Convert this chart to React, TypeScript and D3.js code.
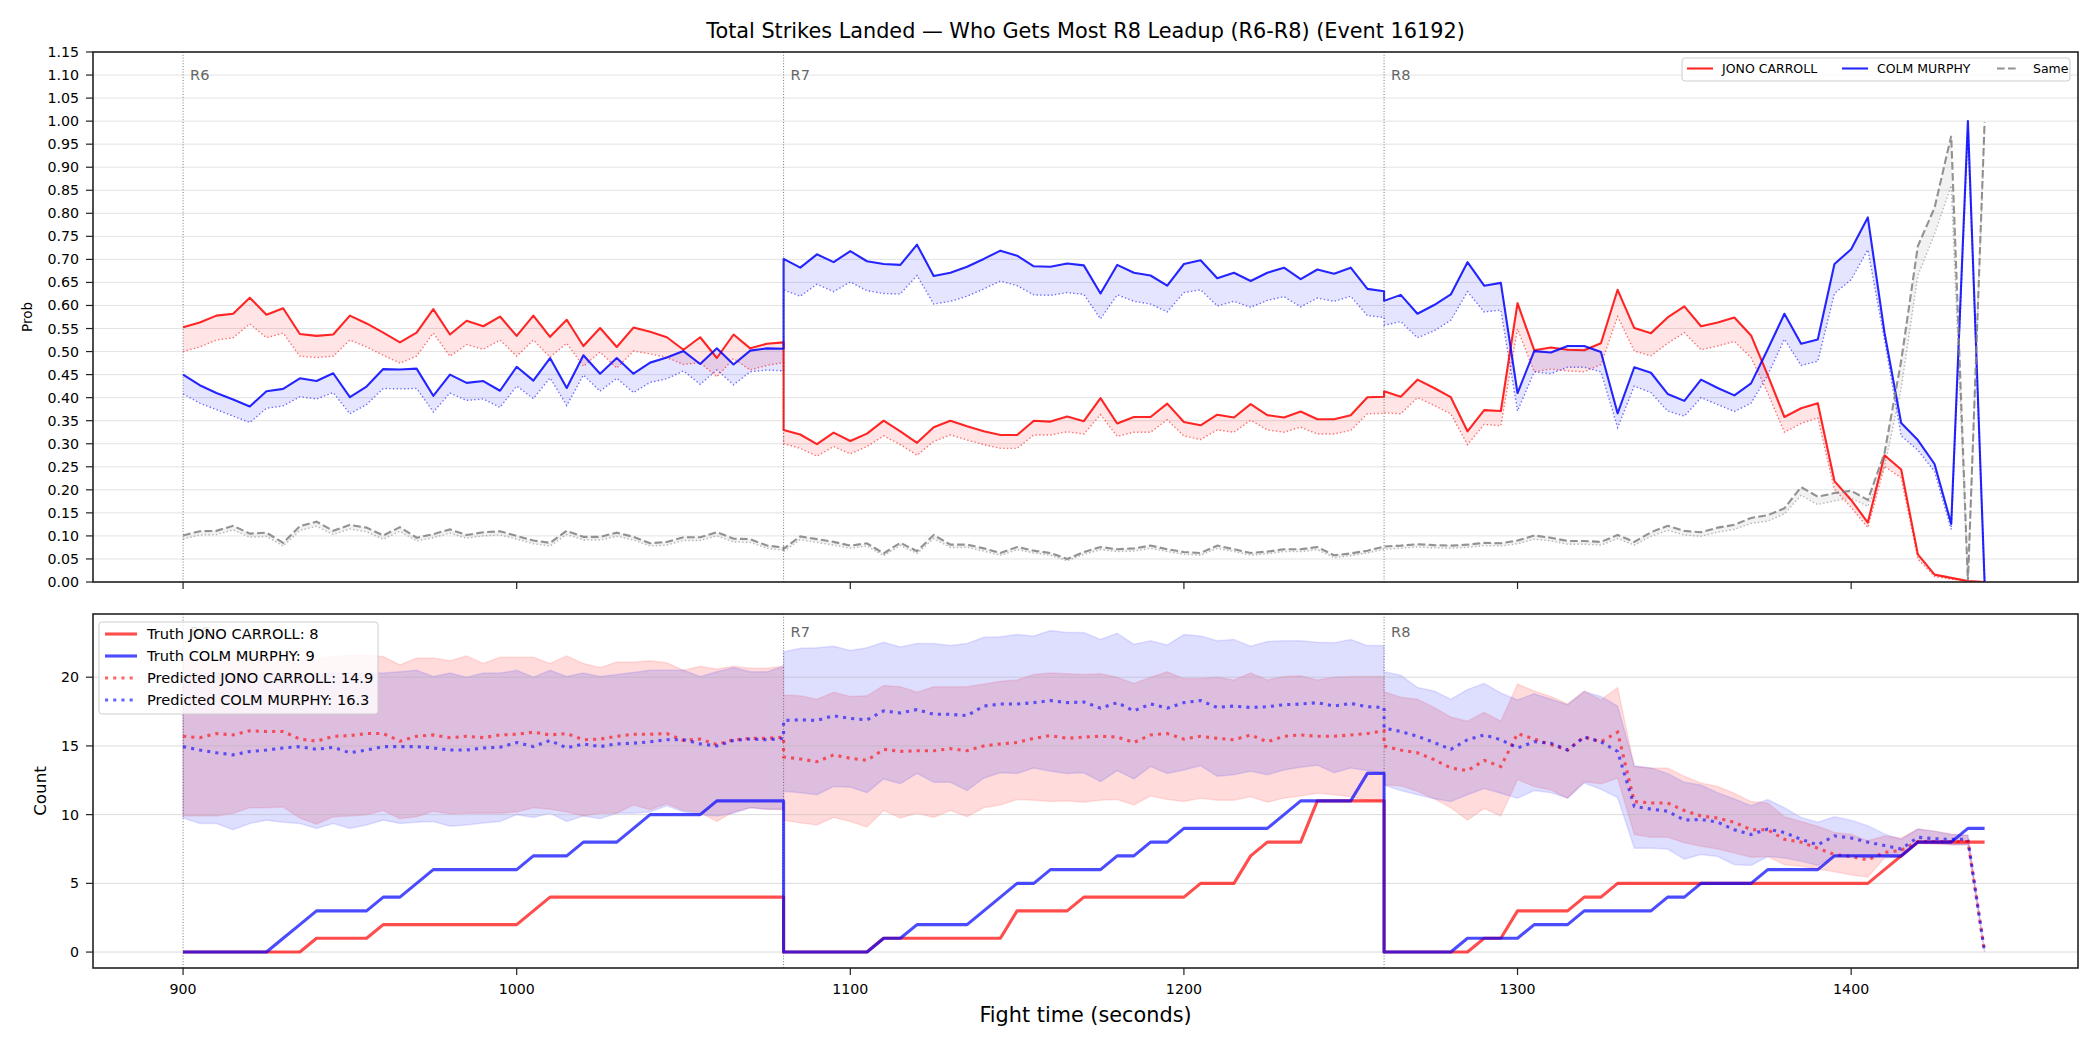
import React from "react";
import * as d3 from "d3";

// ---------------- DATA ----------------
const ROUND_STARTS = [900, 1080, 1260];
const ROUND_LABELS = ["R6", "R7", "R8"];
const SAMPLE_STEP = 5;
const PTS_PER_ROUND = 37;
const TIMES: number[] = ROUND_STARTS.flatMap((s) => d3.range(PTS_PER_ROUND).map((i) => s + i * SAMPLE_STEP));

const FIGHTER_A = "JONO CARROLL";
const FIGHTER_B = "COLM MURPHY";
const TRUTH_A_FINAL = 8;
const TRUTH_B_FINAL = 9;
const PRED_A_FINAL = 14.9;
const PRED_B_FINAL = 16.3;

const PROB_Y_TICKS = d3.range(0, 24).map((i) => i * 0.05);
const COUNT_Y_TICKS = [0, 5, 10, 15, 20];
const X_TICKS = [900, 1000, 1100, 1200, 1300, 1400];

// Top panel: probabilities (solid) and lower (dotted) per fighter
const PROB_A = [
  0.553,0.563,0.578,0.582,0.617,0.580,0.594,0.538,0.534,0.537,0.578,0.561,0.541,0.520,0.541,0.592,0.537,0.567,0.555,0.576,0.534,0.578,0.532,0.569,0.512,0.551,0.510,0.552,0.543,0.531,0.504,0.531,0.486,0.537,0.507,0.517,0.520,
  0.330,0.320,0.299,0.324,0.306,0.322,0.350,0.327,0.302,0.336,0.350,0.338,0.327,0.319,0.319,0.350,0.348,0.359,0.349,0.399,0.344,0.358,0.358,0.387,0.347,0.340,0.363,0.357,0.386,0.362,0.357,0.370,0.353,0.353,0.362,0.401,0.402,
  0.414,0.402,0.439,0.421,0.401,0.327,0.373,0.371,0.605,0.503,0.509,0.504,0.503,0.518,0.634,0.551,0.540,0.574,0.598,0.555,0.563,0.574,0.535,0.449,0.358,0.377,0.388,0.219,0.178,0.129,0.275,0.244,0.060,0.016,0.009,0.002,0.0,
];
const PROB_A_LOW = [
  0.500,0.510,0.525,0.530,0.560,0.530,0.540,0.490,0.487,0.490,0.525,0.510,0.492,0.475,0.490,0.540,0.490,0.515,0.505,0.525,0.490,0.525,0.488,0.518,0.468,0.499,0.464,0.501,0.495,0.487,0.472,0.476,0.445,0.485,0.460,0.470,0.476,
  0.300,0.290,0.273,0.294,0.278,0.294,0.317,0.298,0.275,0.305,0.319,0.308,0.298,0.290,0.290,0.319,0.319,0.326,0.321,0.363,0.316,0.325,0.325,0.352,0.317,0.309,0.330,0.325,0.351,0.330,0.325,0.336,0.321,0.321,0.329,0.365,0.366,
  0.367,0.365,0.400,0.383,0.365,0.298,0.342,0.339,0.549,0.456,0.462,0.458,0.456,0.472,0.576,0.501,0.491,0.518,0.541,0.504,0.512,0.522,0.487,0.410,0.325,0.344,0.356,0.201,0.162,0.118,0.251,0.226,0.050,0.012,0.006,0.002,0.0,
];
const PROB_B = [
  0.450,0.427,0.410,0.396,0.381,0.414,0.419,0.442,0.436,0.453,0.401,0.424,0.462,0.461,0.463,0.404,0.450,0.432,0.436,0.415,0.467,0.437,0.486,0.421,0.492,0.452,0.486,0.452,0.476,0.487,0.501,0.473,0.507,0.472,0.502,0.507,0.506,
  0.701,0.682,0.711,0.694,0.718,0.696,0.690,0.688,0.732,0.664,0.671,0.684,0.701,0.719,0.708,0.685,0.684,0.691,0.687,0.626,0.688,0.671,0.665,0.643,0.690,0.698,0.659,0.671,0.653,0.671,0.682,0.657,0.678,0.669,0.682,0.636,0.631,
  0.610,0.623,0.582,0.601,0.624,0.694,0.643,0.649,0.410,0.501,0.498,0.512,0.512,0.499,0.366,0.466,0.454,0.408,0.393,0.439,0.421,0.405,0.431,0.505,0.582,0.517,0.526,0.690,0.722,0.791,0.541,0.345,0.308,0.256,0.126,1.0,0.0,
];
const PROB_B_LOW = [
  0.408,0.388,0.374,0.360,0.346,0.377,0.382,0.402,0.397,0.411,0.365,0.385,0.420,0.419,0.420,0.369,0.410,0.394,0.397,0.379,0.425,0.398,0.443,0.383,0.449,0.414,0.442,0.411,0.433,0.441,0.458,0.429,0.460,0.428,0.456,0.460,0.458,
  0.634,0.620,0.646,0.630,0.651,0.632,0.626,0.625,0.665,0.603,0.609,0.620,0.636,0.653,0.643,0.623,0.622,0.628,0.624,0.571,0.623,0.609,0.603,0.586,0.628,0.634,0.599,0.609,0.596,0.611,0.619,0.597,0.616,0.609,0.620,0.578,0.574,
  0.557,0.565,0.530,0.545,0.568,0.630,0.586,0.590,0.371,0.456,0.452,0.466,0.466,0.456,0.335,0.425,0.411,0.371,0.360,0.400,0.385,0.370,0.388,0.449,0.527,0.470,0.479,0.626,0.656,0.721,0.526,0.317,0.286,0.240,0.114,0.98,0.0,
];
const PROB_SAME = [
  0.101,0.110,0.111,0.122,0.105,0.107,0.085,0.121,0.131,0.111,0.124,0.118,0.101,0.119,0.096,0.104,0.114,0.102,0.108,0.110,0.100,0.090,0.085,0.111,0.098,0.098,0.107,0.098,0.084,0.087,0.097,0.097,0.108,0.094,0.093,0.079,0.075,
  0.072,0.099,0.093,0.087,0.079,0.084,0.062,0.085,0.067,0.102,0.081,0.081,0.073,0.063,0.076,0.068,0.063,0.050,0.065,0.076,0.071,0.073,0.079,0.071,0.065,0.063,0.079,0.071,0.063,0.066,0.071,0.071,0.076,0.058,0.062,0.068,0.077,
  0.077,0.079,0.082,0.080,0.079,0.081,0.085,0.084,0.090,0.101,0.096,0.089,0.089,0.087,0.102,0.087,0.108,0.122,0.111,0.108,0.118,0.124,0.139,0.145,0.160,0.206,0.185,0.193,0.198,0.178,0.280,0.480,0.729,0.812,0.968,0.0,0.998,
];
const PROB_SAME_LOW = [
  0.093,0.102,0.103,0.113,0.097,0.099,0.078,0.112,0.121,0.103,0.115,0.109,0.093,0.110,0.089,0.096,0.106,0.095,0.100,0.102,0.093,0.083,0.078,0.103,0.091,0.091,0.099,0.091,0.078,0.080,0.090,0.090,0.100,0.087,0.086,0.073,0.069,
  0.066,0.092,0.086,0.080,0.073,0.078,0.057,0.079,0.062,0.094,0.075,0.075,0.067,0.058,0.070,0.063,0.058,0.046,0.060,0.070,0.066,0.067,0.073,0.066,0.060,0.058,0.073,0.066,0.058,0.061,0.066,0.066,0.070,0.053,0.057,0.063,0.071,
  0.071,0.073,0.076,0.074,0.073,0.075,0.079,0.078,0.083,0.093,0.089,0.082,0.082,0.080,0.094,0.080,0.099,0.112,0.102,0.099,0.108,0.114,0.127,0.132,0.148,0.188,0.168,0.176,0.182,0.164,0.250,0.420,0.665,0.755,0.860,0.0,0.990,
];

// Bottom panel: counts
const TRUTH_A = [
  0,0,0,0,0,0,0,0,1,1,1,1,2,2,2,2,2,2,2,2,2,3,4,4,4,4,4,4,4,4,4,4,4,4,4,4,4,
  0,0,0,0,0,0,1,1,1,1,1,1,1,1,3,3,3,3,4,4,4,4,4,4,4,5,5,5,7,8,8,8,11,11,11,11,11,
  0,0,0,0,0,0,1,1,3,3,3,3,4,4,5,5,5,5,5,5,5,5,5,5,5,5,5,5,5,5,6,7,8,8,8,8,8,
];
const TRUTH_B = [
  0,0,0,0,0,0,1,2,3,3,3,3,4,4,5,6,6,6,6,6,6,7,7,7,8,8,8,9,10,10,10,10,11,11,11,11,11,
  0,0,0,0,0,0,1,1,2,2,2,2,3,4,5,5,6,6,6,6,7,7,8,8,9,9,9,9,9,9,10,11,11,11,11,13,13,
  0,0,0,0,0,1,1,1,1,2,2,2,3,3,3,3,3,4,4,5,5,5,5,6,6,6,6,7,7,7,7,7,8,8,8,9,9,
];
const PRED_A = [
  15.7,15.6,15.9,15.8,16.1,16.05,16.05,15.5,15.35,15.7,15.75,15.9,15.9,15.35,15.7,15.8,15.6,15.7,15.6,15.8,15.85,16.0,15.8,15.9,15.45,15.5,15.7,15.85,15.85,15.9,15.4,15.5,15.1,15.45,15.55,15.55,15.65,
  14.2,14.05,13.85,14.35,14.1,13.95,14.75,14.6,14.65,14.65,14.8,14.65,15.0,15.15,15.25,15.55,15.75,15.55,15.65,15.7,15.65,15.25,15.8,15.9,15.5,15.7,15.55,15.45,15.8,15.3,15.7,15.8,15.7,15.7,15.8,15.9,16.1,
  15.0,14.7,14.5,14.0,13.4,13.2,13.95,13.5,15.9,15.5,15.1,14.7,15.65,15.3,16.0,10.95,10.85,10.85,10.3,9.9,9.75,9.45,8.9,8.9,8.2,8.0,7.55,7.1,6.95,6.7,7.25,7.4,8.05,8.05,8.05,8.05,0,
];
const PRED_B = [
  14.95,14.7,14.5,14.35,14.6,14.7,14.85,14.95,14.75,14.9,14.5,14.7,14.95,14.95,14.95,14.85,14.7,14.7,14.85,14.9,15.25,14.95,15.4,14.85,15.15,14.95,15.15,15.2,15.3,15.45,15.45,15.15,15.0,15.4,15.5,15.45,15.55,
  16.85,16.9,16.85,17.2,17.0,16.9,17.55,17.4,17.65,17.3,17.3,17.2,17.9,18.05,18.05,18.15,18.3,18.15,18.2,17.75,18.15,17.55,18.05,17.75,18.15,18.3,17.8,17.9,17.8,17.85,18.0,18.05,18.15,17.9,18.1,17.85,17.8,
  16.3,16.05,15.7,15.25,14.75,15.45,15.8,15.45,14.85,15.3,15.2,14.7,15.65,15.3,14.6,10.6,10.4,10.25,9.6,9.65,9.45,8.9,8.55,8.95,8.7,8.2,7.8,8.45,8.3,8.0,7.75,7.5,8.35,8.25,8.2,8.2,0,
];
const BAND_A_HI = [
  21.3,21.3,21.4,21.5,21.6,21.4,21.3,21.2,21.3,21.5,21.6,21.6,21.5,20.9,21.4,21.4,21.2,21.55,21.0,21.45,21.45,21.45,21.0,21.55,21.0,20.7,21.1,21.1,21.2,21.05,20.5,20.8,20.6,20.8,20.65,20.65,20.8,
  18.7,18.65,18.4,18.9,18.6,18.65,19.4,19.3,18.9,19.3,19.3,19.3,19.5,19.7,19.8,20.2,20.3,20.25,20.2,20.25,20.0,19.55,20.0,20.4,19.9,19.9,20.0,19.8,20.3,19.8,20.05,20.1,19.8,20.0,20.05,20.05,20.05,
  18.95,18.55,18.4,17.8,17.1,16.8,17.45,16.8,19.5,19.0,18.6,18.05,19.0,18.35,19.25,13.5,13.4,13.4,12.8,12.3,12.05,11.55,10.95,10.85,9.85,9.5,9.15,8.7,8.55,8.1,8.45,8.3,8.95,8.8,8.6,8.5,0,
];
const BAND_A_LO = [
  9.9,9.9,9.9,10.1,10.5,10.5,10.55,9.75,9.3,9.85,9.9,10.0,10.3,9.7,9.85,10.25,10.05,10.1,10.1,10.1,10.2,10.5,10.4,10.2,9.9,10.1,10.1,10.7,10.35,10.8,10.3,10.15,9.5,10.2,10.5,10.4,10.35,
  9.6,9.4,9.25,9.8,9.5,9.1,10.3,9.75,10.1,9.8,10.3,9.85,10.5,10.7,11.1,11.05,10.95,11.0,10.9,11.05,11.1,10.7,11.35,11.1,10.95,11.2,11.05,11.05,11.3,10.9,11.2,11.35,11.55,11.45,11.3,11.05,11.0,
  12.15,12.1,11.7,11.15,10.5,9.6,10.45,9.9,12.55,12.05,11.8,11.2,12.4,12.25,12.65,8.55,8.35,8.35,7.95,7.7,7.5,7.2,6.9,6.95,6.35,6.25,6.05,5.85,5.6,5.45,6.85,6.9,7.9,7.85,7.8,7.8,0,
];
const BAND_B_HI = [
  20.3,20.3,20.3,20.2,20.3,20.2,20.3,20.2,20.2,20.3,20.3,20.3,20.3,20.4,20.5,20.05,20.3,20.0,20.3,20.3,20.5,20.0,20.5,20.05,20.3,20.05,20.2,20.35,20.5,20.5,20.5,20.05,20.4,20.7,20.4,20.4,20.8,
  21.85,22.1,22.15,22.25,21.95,22.15,22.55,22.2,22.45,22.45,22.3,22.45,22.9,22.95,23.1,23.0,23.4,23.25,23.25,22.75,23.2,22.4,22.65,22.35,23.1,23.0,22.65,22.75,22.25,22.6,22.65,22.65,22.55,22.5,22.75,22.3,22.3,
  20.4,20.15,19.25,19.0,18.4,19.1,19.55,18.85,18.35,18.8,18.4,18.0,18.95,18.6,17.9,13.55,13.4,13.0,12.35,12.15,11.6,11.15,10.65,11.1,10.5,9.8,9.45,9.85,9.6,9.2,8.6,8.2,8.95,8.8,8.55,8.5,0,
];
const BAND_B_LO = [
  9.75,9.35,9.35,8.9,9.35,9.6,9.45,9.35,9.0,9.35,9.0,9.25,9.6,9.35,9.45,9.5,9.15,9.25,9.4,9.5,10.0,9.8,10.1,9.5,9.9,9.7,10.1,10.1,10.2,10.65,10.2,10.0,9.9,10.1,10.5,10.4,10.4,
  11.7,11.6,11.45,12.05,12.0,11.6,12.6,12.25,13.0,12.35,12.35,11.75,12.65,13.05,13.0,13.4,13.15,13.0,13.05,12.4,13.2,12.6,13.5,13.0,13.25,13.55,12.8,12.9,13.15,12.9,13.25,13.45,13.6,13.05,13.4,13.2,13.0,
  12.15,11.75,11.45,11.15,10.95,11.45,11.9,11.55,11.2,11.75,11.6,11.2,12.3,11.85,11.25,7.55,7.55,7.5,6.75,7.1,6.95,6.35,6.3,6.95,6.85,6.6,6.3,7.0,7.0,6.85,7.0,6.85,8.0,7.95,7.8,7.8,0,
];

// ---------------- LAYOUT ----------------
const W = 2100;
const H = 1050;
const PL = 93, PR = 2078;
const TOP_Y0 = 52, TOP_Y1 = 582;
const BOT_Y0 = 614, BOT_Y1 = 968;
const FONT = "DejaVu Sans, Liberation Sans, sans-serif";
const RED = "#ff0000";
const BLUE = "#0000ff";
const GRAY = "#808080";

const x = d3.scaleLinear().domain([873, 1468]).range([PL, PR]);
const yTop = d3.scaleLinear().domain([0, 1.15]).range([TOP_Y1, TOP_Y0]);
const yBot = d3.scaleLinear().domain([-1.16, 24.6]).range([BOT_Y1, BOT_Y0]);

const idx = TIMES.map((_, i) => i);

function linePath(vals: number[], y: d3.ScaleLinear<number, number>) {
  return d3.line<number>().x((i) => x(TIMES[i])).y((i) => y(vals[i]))(idx) || "";
}
function areaPath(lo: number[], hi: number[], y: d3.ScaleLinear<number, number>) {
  return d3.area<number>().x((i) => x(TIMES[i])).y0((i) => y(lo[i])).y1((i) => y(hi[i]))(idx) || "";
}

export default function App() {
  const roundLines = (y0: number, y1: number, labels: boolean[]) =>
    ROUND_STARTS.map((s, k) => (
      <g key={"rl" + k}>
        <line x1={x(s)} x2={x(s)} y1={y0} y2={y1} stroke="#555" strokeOpacity={0.8} strokeWidth={1} strokeDasharray="1,1.8" />
        {labels[k] && (
          <text x={x(s) + 7} y={y0 + 0.03 * (y1 - y0) + 12} fontSize={14.6} fill="#666" fontFamily={FONT}>
            {ROUND_LABELS[k]}
          </text>
        )}
      </g>
    ));

  return (
    <svg width={W} height={H} style={{ position: "absolute", left: 0, top: 0, background: "#fff" }} fontFamily={FONT}>
      <rect x={0} y={0} width={W} height={H} fill="#fff" />
      {/* Title */}
      <text x={(PL + PR) / 2} y={38} textAnchor="middle" fontSize={20.8} fill="#000">
        Total Strikes Landed — Who Gets Most R8 Leadup (R6-R8) (Event 16192)
      </text>

      {/* ---------- TOP PANEL ---------- */}
      <defs>
        <clipPath id="clipTop"><rect x={PL} y={TOP_Y0} width={PR - PL} height={TOP_Y1 - TOP_Y0} /></clipPath>
        <clipPath id="clipBot"><rect x={PL} y={BOT_Y0} width={PR - PL} height={BOT_Y1 - BOT_Y0} /></clipPath>
      </defs>
      {PROB_Y_TICKS.map((t, i) => (
        <line key={"gt" + i} x1={PL} x2={PR} y1={yTop(t)} y2={yTop(t)} stroke="#b0b0b0" strokeOpacity={0.35} strokeWidth={1} />
      ))}
      <g clipPath="url(#clipTop)">
        <path d={areaPath(PROB_A_LOW, PROB_A, yTop)} fill={RED} fillOpacity={0.1} />
        <path d={areaPath(PROB_B_LOW, PROB_B, yTop)} fill={BLUE} fillOpacity={0.1} />
        <path d={areaPath(PROB_SAME_LOW, PROB_SAME, yTop)} fill={GRAY} fillOpacity={0.1} />
        <path d={linePath(PROB_A_LOW, yTop)} fill="none" stroke={RED} strokeOpacity={0.55} strokeWidth={1.4} strokeDasharray="1.4,2.3" />
        <path d={linePath(PROB_B_LOW, yTop)} fill="none" stroke={BLUE} strokeOpacity={0.55} strokeWidth={1.4} strokeDasharray="1.4,2.3" />
        <path d={linePath(PROB_SAME_LOW, yTop)} fill="none" stroke={GRAY} strokeOpacity={0.55} strokeWidth={1.4} strokeDasharray="1.4,2.3" />
        <path d={linePath(PROB_A, yTop)} fill="none" stroke={RED} strokeOpacity={0.85} strokeWidth={2.1} strokeLinejoin="round" />
        <path d={linePath(PROB_B, yTop)} fill="none" stroke={BLUE} strokeOpacity={0.85} strokeWidth={2.1} strokeLinejoin="round" />
        <path d={linePath(PROB_SAME, yTop)} fill="none" stroke={GRAY} strokeOpacity={0.85} strokeWidth={2.1} strokeDasharray="7.7,3.3" />
        {roundLines(TOP_Y0, TOP_Y1, [true, true, true])}
      </g>
      <rect x={PL} y={TOP_Y0} width={PR - PL} height={TOP_Y1 - TOP_Y0} fill="none" stroke="#222" strokeWidth={1.6} />
      {PROB_Y_TICKS.map((t, i) => (
        <g key={"yt" + i}>
          <line x1={PL - 7} x2={PL} y1={yTop(t)} y2={yTop(t)} stroke="#222" strokeWidth={1.2} />
          <text x={PL - 14} y={yTop(t) + 5} textAnchor="end" fontSize={14.2} fill="#000">{t.toFixed(2)}</text>
        </g>
      ))}
      {X_TICKS.map((t, i) => (
        <line key={"xtt" + i} x1={x(t)} x2={x(t)} y1={TOP_Y1} y2={TOP_Y1 + 7} stroke="#222" strokeWidth={1.2} />
      ))}
      <text transform={`translate(28,${(TOP_Y0 + TOP_Y1) / 2}) rotate(-90)`} textAnchor="middle" dominantBaseline="middle" fontSize={13.5}>Prob</text>

      {/* top legend */}
      <g>
        <rect x={1682} y={58} width={388} height={23} rx={3} fill="#fff" fillOpacity={0.8} stroke="#ccc" strokeWidth={1} />
        <line x1={1687} x2={1713} y1={68.5} y2={68.5} stroke={RED} strokeOpacity={0.85} strokeWidth={2.1} />
        <text x={1722} y={73} fontSize={12.5}>{FIGHTER_A}</text>
        <line x1={1842} x2={1868} y1={68.5} y2={68.5} stroke={BLUE} strokeOpacity={0.85} strokeWidth={2.1} />
        <text x={1877} y={73} fontSize={12.5}>{FIGHTER_B}</text>
        <line x1={1997} x2={2019} y1={68.5} y2={68.5} stroke={GRAY} strokeOpacity={0.85} strokeWidth={2.1} strokeDasharray="7.7,3.3" />
        <text x={2033} y={73} fontSize={12.5}>Same</text>
      </g>

      {/* ---------- BOTTOM PANEL ---------- */}
      <g clipPath="url(#clipBot)">
        <path d={areaPath(BAND_A_LO, BAND_A_HI, yBot)} fill={RED} fillOpacity={0.14} stroke={RED} strokeOpacity={0.1} strokeWidth={1.5} />
        <path d={areaPath(BAND_B_LO, BAND_B_HI, yBot)} fill={BLUE} fillOpacity={0.13} stroke={BLUE} strokeOpacity={0.1} strokeWidth={1.5} />
      </g>
      {COUNT_Y_TICKS.map((t, i) => (
        <line key={"gb" + i} x1={PL} x2={PR} y1={yBot(t)} y2={yBot(t)} stroke="#b0b0b0" strokeOpacity={0.45} strokeWidth={1} />
      ))}
      <g clipPath="url(#clipBot)">
        {roundLines(BOT_Y0, BOT_Y1, [true, true, true])}
        <path d={linePath(PRED_A, yBot)} fill="none" stroke={RED} strokeOpacity={0.6} strokeWidth={3.1} strokeDasharray="3.1,5.1" />
        <path d={linePath(PRED_B, yBot)} fill="none" stroke={BLUE} strokeOpacity={0.6} strokeWidth={3.1} strokeDasharray="3.1,5.1" />
        <path d={linePath(TRUTH_A, yBot)} fill="none" stroke={RED} strokeOpacity={0.7} strokeWidth={3.1} strokeLinejoin="round" />
        <path d={linePath(TRUTH_B, yBot)} fill="none" stroke={BLUE} strokeOpacity={0.7} strokeWidth={3.1} strokeLinejoin="round" />
      </g>
      <rect x={PL} y={BOT_Y0} width={PR - PL} height={BOT_Y1 - BOT_Y0} fill="none" stroke="#222" strokeWidth={1.6} />
      {COUNT_Y_TICKS.map((t, i) => (
        <g key={"ybt" + i}>
          <line x1={PL - 7} x2={PL} y1={yBot(t)} y2={yBot(t)} stroke="#222" strokeWidth={1.2} />
          <text x={PL - 14} y={yBot(t) + 5} textAnchor="end" fontSize={14.2}>{t}</text>
        </g>
      ))}
      {X_TICKS.map((t, i) => (
        <g key={"xbt" + i}>
          <line x1={x(t)} x2={x(t)} y1={BOT_Y1} y2={BOT_Y1 + 7} stroke="#222" strokeWidth={1.2} />
          <text x={x(t)} y={994} textAnchor="middle" fontSize={14.2}>{t}</text>
        </g>
      ))}
      <text transform={`translate(41,${(BOT_Y0 + BOT_Y1) / 2}) rotate(-90)`} textAnchor="middle" dominantBaseline="middle" fontSize={16.7}>Count</text>
      <text x={(PL + PR) / 2} y={1022} textAnchor="middle" fontSize={20.8}>Fight time (seconds)</text>

      {/* bottom legend (drawn over the R6 label, as in the reference) */}
      <g>
        <rect x={99} y={622} width={279} height={92} rx={3} fill="#fff" fillOpacity={0.8} stroke="#ccc" strokeWidth={1} />
        <line x1={105} x2={137} y1={634} y2={634} stroke={RED} strokeOpacity={0.7} strokeWidth={3.1} />
        <text x={147} y={639} fontSize={14.6}>{`Truth ${FIGHTER_A}: ${TRUTH_A_FINAL}`}</text>
        <line x1={105} x2={137} y1={656} y2={656} stroke={BLUE} strokeOpacity={0.7} strokeWidth={3.1} />
        <text x={147} y={661} fontSize={14.6}>{`Truth ${FIGHTER_B}: ${TRUTH_B_FINAL}`}</text>
        <line x1={105} x2={137} y1={678} y2={678} stroke={RED} strokeOpacity={0.6} strokeWidth={3.1} strokeDasharray="3.1,5.1" />
        <text x={147} y={683} fontSize={14.6}>{`Predicted ${FIGHTER_A}: ${PRED_A_FINAL}`}</text>
        <line x1={105} x2={137} y1={700} y2={700} stroke={BLUE} strokeOpacity={0.6} strokeWidth={3.1} strokeDasharray="3.1,5.1" />
        <text x={147} y={705} fontSize={14.6}>{`Predicted ${FIGHTER_B}: ${PRED_B_FINAL}`}</text>
      </g>
    </svg>
  );
}
